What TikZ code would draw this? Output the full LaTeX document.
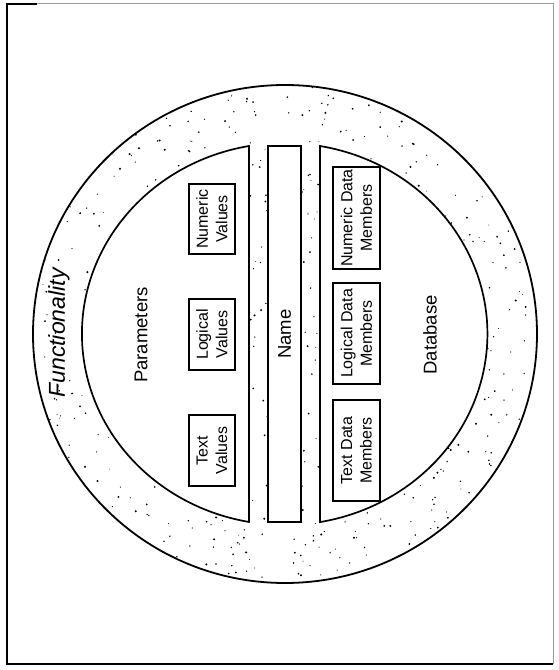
\documentclass[tikz,border=0pt]{standalone}
\usepackage{fontspec}
\setmainfont{Liberation Sans}

\tikzset{
  region/.style={draw, line width=1.7pt, fill=white},
  valbox/.style={draw, line width=1.6pt, fill=white, rotate=90, inner sep=0pt,
    align=center, font=\fontsize{16}{19.5}\selectfont},
  lbl/.style={rotate=90, inner sep=0pt, font=\fontsize{18.5}{21}\selectfont},
}

\begin{document}
\begin{tikzpicture}[x=1pt, y=1pt]

  \useasboundingbox (0,0) rectangle (559,670);

  % Frame
  \draw[black!40, line width=1pt] (7,666) -- (553,666) -- (553,6);
  \draw[line width=1.6pt] (37,666) -- (7,666) -- (7,6) -- (553,6);

  % Stippled ring
  \begin{scope}
    \clip (285,336) ellipse [x radius=252, y radius=249];
    \pgfmathsetseed{4127}
    \foreach \i in {1,...,900}{
      \pgfmathsetmacro\px{33+504*rnd}
      \pgfmathsetmacro\py{87+498*rnd}
      \pgfmathsetmacro\pr{0.45+0.7*rnd}
      \fill (\px,\py) circle (\pr);
    }
  \end{scope}
  \draw[line width=1.8pt] (285,336) ellipse [x radius=252, y radius=249];

  % Regions
  \draw[region] (249,524) arc[start angle=100.2, end angle=259.8,
    x radius=203, y radius=191] -- cycle;
  \draw[region] (320,524) arc[start angle=79.9, end angle=-79.9,
    x radius=203, y radius=191] -- cycle;
  \node[region, rotate=90, minimum width=376, minimum height=33,
    font=\fontsize{18.5}{21}\selectfont] (name) at (284.5,336) {Name};

  % Boxes
  \node[valbox, minimum width=70, minimum height=46] (numval) at (212,451) {Numeric\\Values};
  \node[valbox, minimum width=71, minimum height=46] (logval) at (212,335.5) {Logical\\Values};
  \node[valbox, minimum width=71, minimum height=46] (txtval) at (212,219.5) {Text\\Values};

  \node[valbox, minimum width=102, minimum height=47] (numdat) at (356.5,452) {Numeric Data\\Members};
  \node[valbox, minimum width=101, minimum height=47] (logdat) at (356.5,336.5) {Logical Data\\Members};
  \node[valbox, minimum width=101, minimum height=47] (txtdat) at (356.5,219.5) {Text Data\\Members};

  % Labels
  \node[lbl] (params) at (141,335) {Parameters};
  \node[lbl] (dbase) at (430,335) {Database};
  \node[lbl, font=\fontsize{23}{26}\selectfont\itshape] (func) at (59,337) {Functionality};

\end{tikzpicture}
\end{document}
